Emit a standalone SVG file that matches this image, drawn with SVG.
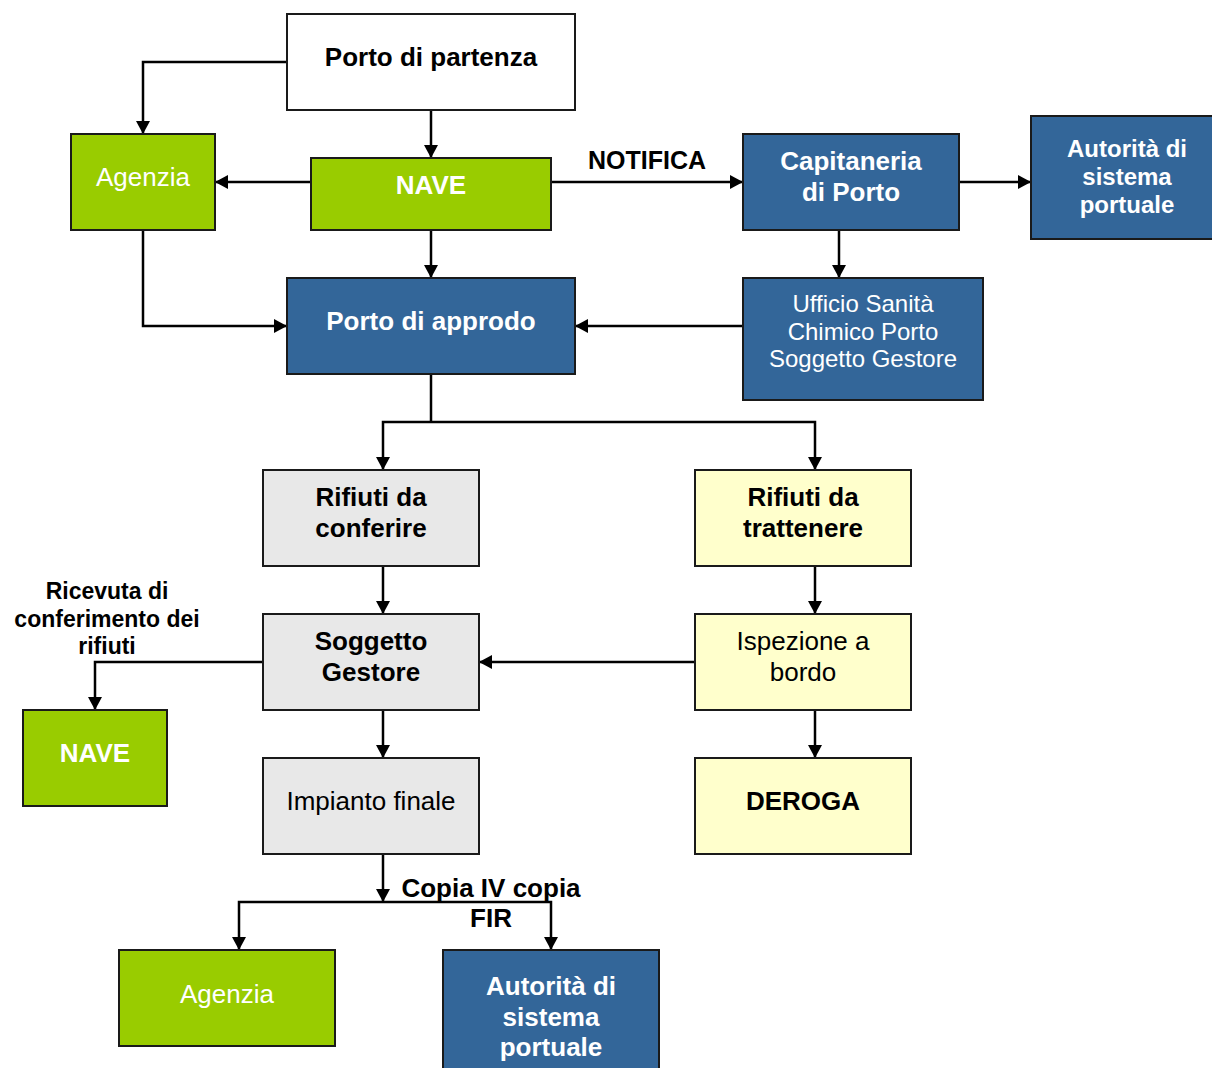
<svg xmlns="http://www.w3.org/2000/svg" width="1212" height="1068" viewBox="0 0 1212 1068">
<defs>
<marker id="arr" markerUnits="userSpaceOnUse" markerWidth="14" markerHeight="14" refX="13" refY="7" orient="auto">
<path d="M0,0 L13,7 L0,14 z" fill="#000"/>
</marker>
<style>
.box{stroke:#1a1a1a;stroke-width:2}
.g{fill:#99CC00}.b{fill:#336699}.w{fill:#FFFFFF}.gr{fill:#E8E8E8}.y{fill:#FFFFCC}
text{font-family:"Liberation Sans",Arial,sans-serif;text-anchor:middle}
.bw{fill:#fff;font-weight:bold;font-size:26px}
.rw{fill:#fff;font-size:26px}
.bk{fill:#000;font-weight:bold;font-size:26px}
.rk{fill:#000;font-size:26px}
.c{fill:none;stroke:#000;stroke-width:2.5}
.a{marker-end:url(#arr)}
</style>
</defs>
<rect width="1212" height="1068" fill="#fff"/>
<g id="connectors">
<path class="c a" d="M287,62 H143 V134"/>
<path class="c a" d="M431,110 V158"/>
<path class="c a" d="M311,182 H215"/>
<path class="c a" d="M551,182 H743"/>
<path class="c a" d="M959,182 H1031"/>
<path class="c a" d="M839,230 V278"/>
<path class="c a" d="M431,230 V278"/>
<path class="c a" d="M143,230 V326 H287"/>
<path class="c a" d="M743,326 H575"/>
<path class="c" d="M431,374 V422"/>
<path class="c a" d="M431,422 H383 V470"/>
<path class="c a" d="M431,422 H815 V470"/>
<path class="c a" d="M383,566 V614"/>
<path class="c a" d="M815,566 V614"/>
<path class="c a" d="M695,662 H479"/>
<path class="c a" d="M263,662 H95 V710"/>
<path class="c a" d="M383,710 V758"/>
<path class="c a" d="M815,710 V758"/>
<path class="c a" d="M383,854 V902"/>
<path class="c a" d="M383,902 H239 V950"/>
<path class="c a" d="M383,902 H551 V950"/>
<text class="bk" x="647" y="169" style="font-size:25px">NOTIFICA</text>
<text class="bk" style="font-size:23px"><tspan x="107" y="599">Ricevuta di</tspan><tspan x="107" y="627">conferimento dei</tspan><tspan x="107" y="654">rifiuti</tspan></text>
<text class="bk"><tspan x="491" y="897">Copia IV copia</tspan><tspan x="491" y="927">FIR</tspan></text>
</g>
<g id="porto-partenza"><rect class="box w" x="287" y="14" width="288" height="96"/><text class="bk" x="431" y="66">Porto di partenza</text></g>
<g id="agenzia-top"><rect class="box g" x="71" y="134" width="144" height="96"/><text class="rw" x="143" y="186">Agenzia</text></g>
<g id="nave-top"><rect class="box g" x="311" y="158" width="240" height="72"/><text class="bw" x="431" y="194">NAVE</text></g>
<g id="capitaneria"><rect class="box b" x="743" y="134" width="216" height="96"/><text class="bw"><tspan x="851" y="170">Capitaneria</tspan><tspan x="851" y="201">di Porto</tspan></text></g>
<g id="autorita-top"><rect class="box b" x="1031" y="116" width="184" height="123"/><text class="bw" style="font-size:24px"><tspan x="1127" y="157">Autorità di</tspan><tspan x="1127" y="185">sistema</tspan><tspan x="1127" y="213">portuale</tspan></text></g>
<g id="ufficio"><rect class="box b" x="743" y="278" width="240" height="122"/><text class="rw" style="font-size:24px"><tspan x="863" y="312">Ufficio Sanità</tspan><tspan x="863" y="339.5">Chimico Porto</tspan><tspan x="863" y="367">Soggetto Gestore</tspan></text></g>
<g id="porto-approdo"><rect class="box b" x="287" y="278" width="288" height="96"/><text class="bw" x="431" y="330">Porto di approdo</text></g>
<g id="rifiuti-conferire"><rect class="box gr" x="263" y="470" width="216" height="96"/><text class="bk"><tspan x="371" y="506">Rifiuti da</tspan><tspan x="371" y="537">conferire</tspan></text></g>
<g id="rifiuti-trattenere"><rect class="box y" x="695" y="470" width="216" height="96"/><text class="bk"><tspan x="803" y="506">Rifiuti da</tspan><tspan x="803" y="537">trattenere</tspan></text></g>
<g id="soggetto-gestore"><rect class="box gr" x="263" y="614" width="216" height="96"/><text class="bk"><tspan x="371" y="650">Soggetto</tspan><tspan x="371" y="681">Gestore</tspan></text></g>
<g id="ispezione"><rect class="box y" x="695" y="614" width="216" height="96"/><text class="rk"><tspan x="803" y="650">Ispezione a</tspan><tspan x="803" y="681">bordo</tspan></text></g>
<g id="nave-bottom"><rect class="box g" x="23" y="710" width="144" height="96"/><text class="bw" x="95" y="762">NAVE</text></g>
<g id="impianto"><rect class="box gr" x="263" y="758" width="216" height="96"/><text class="rk" x="371" y="810">Impianto finale</text></g>
<g id="deroga"><rect class="box y" x="695" y="758" width="216" height="96"/><text class="bk" x="803" y="810">DEROGA</text></g>
<g id="agenzia-bottom"><rect class="box g" x="119" y="950" width="216" height="96"/><text class="rw" x="227" y="1003">Agenzia</text></g>
<g id="autorita-bottom"><rect class="box b" x="443" y="950" width="216" height="130"/><text class="bw"><tspan x="551" y="995">Autorità di</tspan><tspan x="551" y="1025.5">sistema</tspan><tspan x="551" y="1056">portuale</tspan></text></g>
</svg>
